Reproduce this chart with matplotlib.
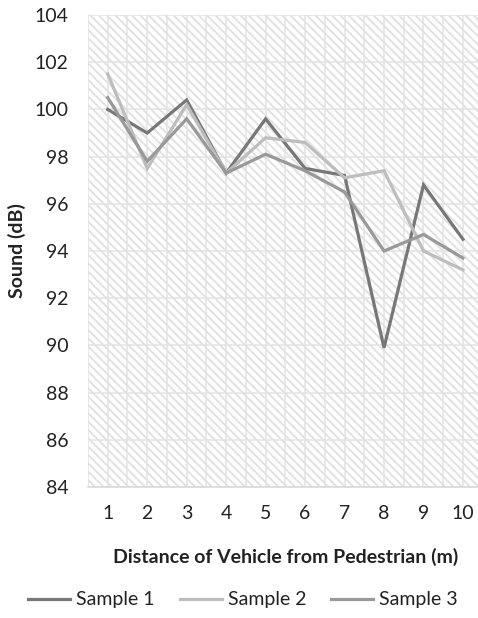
import matplotlib
matplotlib.use("Agg")
import matplotlib.pyplot as plt
from matplotlib.patches import Rectangle
from matplotlib.ticker import MultipleLocator

plt.rcParams['font.family'] = ['Lato', 'DejaVu Sans']
plt.rcParams['hatch.linewidth'] = 1.4
plt.rcParams['hatch.color'] = '#e2e2e2'

distance = [1, 2, 3, 4, 5, 6, 7, 8, 9, 10]
sample1 = [100.0, 99.0, 100.4, 97.3, 99.6, 97.5, 97.2, 89.9, 96.8, 94.5]
sample2 = [101.5, 97.5, 100.2, 97.3, 98.8, 98.6, 97.1, 97.4, 94.0, 93.2]
sample3 = [100.5, 97.8, 99.6, 97.3, 98.1, 97.4, 96.5, 94.0, 94.7, 93.7]
series_names = ['Sample 1', 'Sample 2', 'Sample 3']
colors = ['#777777', '#bdbdbd', '#999999']
y_ticks = [84, 86, 88, 90, 92, 94, 96, 98, 100, 102, 104]

W, H = 478, 618
fig = plt.figure(figsize=(W / 100, H / 100), dpi=100)
ax = fig.add_axes([88 / W, (H - 487) / H, (482.7 - 88) / W, (487 - 15) / H])

ax.set_xlim(0.5, 10.5)
ax.set_ylim(84, 104)

# hatched background
bg = Rectangle((0, 0), 1, 1, transform=ax.transAxes, facecolor='white',
               edgecolor='#e2e2e2', hatch='\\\\\\\\', linewidth=0, zorder=0)
ax.add_patch(bg)

ax.set_xticks(distance)
ax.set_xticklabels([str(d) for d in distance])
ax.set_yticks(y_ticks)
ax.xaxis.set_minor_locator(MultipleLocator(0.5))
ax.grid(True, which='major', axis='both', color='#e3e3e3', linewidth=1.1, zorder=1)
ax.grid(True, which='minor', axis='x', color='#e3e3e3', linewidth=1.1, zorder=1)
ax.tick_params(which='both', length=0)
ax.tick_params(axis='both', labelsize=14, colors='#222222')
ax.tick_params(axis='x', pad=13)
ax.tick_params(axis='y', pad=14)

for s in ['top', 'right', 'left']:
    ax.spines[s].set_visible(False)
ax.spines['bottom'].set_color('#d9d9d9')
ax.spines['bottom'].set_linewidth(1.2)

for vals, name, c in zip([sample1, sample2, sample3], series_names, colors):
    ax.plot(distance, vals, color=c, linewidth=2.3, label=name, zorder=3,
            solid_joinstyle='miter')

fig.text(17 / W, 1 - 251 / H, 'Sound (dB)', rotation=90, ha='center', va='center',
         fontsize=14, fontweight='bold', color='#222222')
fig.text(286 / W, 1 - 557 / H, 'Distance of Vehicle from Pedestrian (m)', ha='center',
         va='center', fontsize=14, fontweight='bold', color='#222222')

handles, labels = ax.get_legend_handles_labels()
fig.legend(handles, labels, loc='center', bbox_to_anchor=(243 / W, 1 - 600 / H), ncol=3,
           frameon=False, fontsize=14, handlelength=2.15, handletextpad=0.3,
           columnspacing=1.3, labelcolor='#222222')

fig.savefig('out.png', dpi=100)
